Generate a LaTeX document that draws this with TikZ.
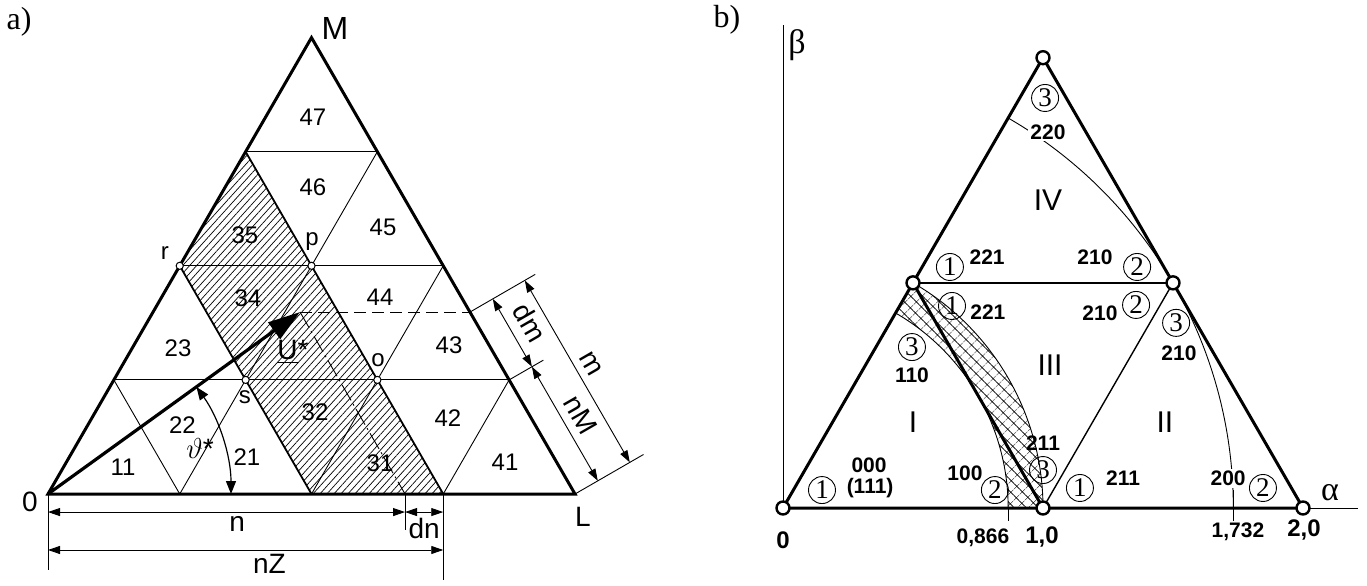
\documentclass[tikz,border=0pt]{standalone}
\usepackage{fontspec}
\setmainfont{Liberation Serif}
\setsansfont{Liberation Sans}
\usetikzlibrary{arrows.meta,patterns.meta,calc}

\begin{document}
\begin{tikzpicture}[x=0.5pt, y=0.5pt, >={Triangle[length=6pt,width=4pt]}]
    \tikzset{
        edge/.style={line width=1.5pt},
        grid/.style={line width=0.45pt},
        band/.style={line width=0.9pt},
        dim/.style={line width=0.45pt},
        lab/.style={font=\sffamily\fontsize{12}{12}\selectfont, inner sep=1pt},
        biglab/.style={font=\sffamily\fontsize{14}{14}\selectfont, inner sep=1pt},
        tag/.style={font=\fontsize{16}{16}\selectfont, inner sep=0pt},
        pt/.style={circle, draw, fill=white, line width=0.5pt, inner sep=0pt, minimum size=3.6pt},
        num/.style={font=\sffamily\bfseries\fontsize{10.5}{10.5}\selectfont, inner sep=1pt},
        ring/.style={circle, draw, line width=0.45pt, inner sep=0pt, minimum size=13.5pt, font=\fontsize{13.5}{13.5}\selectfont},
        vert/.style={circle, draw, fill=white, line width=1.2pt, inner sep=0pt, minimum size=6.5pt},
        zone/.style={font=\sffamily\fontsize{15}{15}\selectfont, inner sep=0pt}
    }
    \useasboundingbox (0,0) rectangle (1367,585);
    \node[tag] (tagA) at (19,563) {a)};
    \node[tag] (tagB) at (727,565) {b)};

    % a) triangle with sectors
    \begin{scope}[shift={(48,91)}, x=65.875pt, y=65.875pt]
        \coordinate (O) at (0,0);
        \coordinate (L) at (4,0);
        \coordinate (M) at (2,3.464);
        \coordinate (b1) at (1,0);
        \coordinate (b2) at (2,0);
        \coordinate (b3) at (3,0);
        \coordinate (a0) at (0.5,0.866);
        \coordinate (s) at (1.5,0.866);
        \coordinate (o) at (2.5,0.866);
        \coordinate (a3) at (3.5,0.866);
        \coordinate (r) at (1,1.732);
        \coordinate (p) at (2,1.732);
        \coordinate (c2) at (3,1.732);
        \coordinate (t0) at (1.5,2.598);
        \coordinate (t1) at (2.5,2.598);
        \coordinate (tip) at (1.913,1.381);
        \coordinate (eM) at (3.203,1.381);
        \coordinate (nE) at (2.71,0);

        \fill[pattern={Lines[angle=48,distance=2.6pt,line width=0.35pt]}]
            (t0) -- (r) -- (s) -- (b2) -- (b3) -- (o) -- (p) -- cycle;
        \draw[grid] (a0) -- (a3) (r) -- (c2) (t0) -- (t1);
        \draw[grid] (b1) -- (a0) (b1) -- (s) (b2) -- (o) (b3) -- (a3)
            (s) -- (p) (o) -- (c2) (p) -- (t1);
        \draw[band] (t0) -- (p) -- (o) -- (b3) (r) -- (s) -- (b2);
        \draw[edge] (O) -- (M) -- (L) -- cycle;

        \draw[grid, dash pattern=on 6pt off 3pt] (tip) -- (eM);
        \draw[grid, dash pattern=on 9pt off 2pt on 1pt off 2pt] (tip) -- (nE);
        \draw[line width=1.6pt, -{Triangle[length=16pt,width=10pt]}] (O) -- (tip);
        \draw[line width=0.6pt, {Triangle[length=6.5pt,width=5pt]}-{Triangle[length=6.5pt,width=5pt]}]
            (35.8:1.389) arc[start angle=35.8, end angle=0, radius=1.389];

        \node[pt] (rPt) at (r) {};
        \node[pt] (pPt) at (p) {};
        \node[pt] (sPt) at (s) {};
        \node[pt] (oPt) at (o) {};
        \node[lab] (rLab) at (0.888,1.829) {r};
        \node[lab] (pLab) at (2.004,1.913) {p};
        \node[lab] (sLab) at (1.495,0.736) {s};
        \node[lab] (oLab) at (2.505,1.017) {o};

        \node[lab] (n47) at (2.011,2.861) {47};
        \node[lab] (n46) at (2.011,2.330) {46};
        \node[lab] (n45) at (2.543,2.027) {45};
        \node[lab] (n35) at (1.495,1.966) {35};
        \node[lab] (n34) at (1.518,1.488) {34};
        \node[lab] (n44) at (2.520,1.495) {44};
        \node[lab] (n23) at (0.987,1.108) {23};
        \node[lab] (n43) at (3.044,1.131) {43};
        \node[lab] (n22) at (1.020,0.524) {22};
        \node[lab] (n21) at (1.510,0.281) {21};
        \node[lab] (n11) at (0.569,0.205) {11};
        \node[lab] (n32) at (2.027,0.622) {32};
        \node[lab] (n31) at (2.520,0.235) {31};
        \node[lab] (n42) at (3.036,0.577) {42};
        \node[lab] (n41) at (3.469,0.243) {41};
        \node[biglab] (uLab) at (1.859,1.077) {\underline{U}*};
        \node[biglab] (thLab) at (1.154,0.349) {$\vartheta$*};
        \node[biglab] (oName) at (-0.137,-0.061) {0};
        \node[biglab] (lName) at (4.06,-0.175) {L};
        \node[font=\sffamily\fontsize{16}{16}\selectfont] (mName) at (2.178,3.537) {M};

        % dimensions along the base
        \coordinate (xO) at (0,-0.577);
        \coordinate (xN) at (2.71,-0.27);
        \coordinate (xZ) at (3,-0.65);
        \coordinate (nL) at (0,-0.137);
        \coordinate (nR) at (2.71,-0.137);
        \coordinate (dnR) at (3,-0.137);
        \coordinate (zL) at (0,-0.425);
        \coordinate (zR) at (3,-0.425);
        \draw[dim] (O) -- (xO) (nE) -- (xN) (b3) -- (xZ);
        \draw[dim, <->] (nL) -- node[biglab, below=1pt, pos=0.53] (nLab) {n} (nR);
        \draw[dim, <->] (nR) -- node[biglab, below=2pt] (dnLab) {dn} (dnR);
        \draw[dim, <->] (zL) -- node[biglab, below=1pt, pos=0.56] (nzLab) {nZ} (zR);

        % dimensions along ML
        \coordinate (yM) at ($(eM)+(0.495,0.286)$);
        \coordinate (yA) at ($(a3)+(0.26,0.15)$);
        \coordinate (yL) at ($(L)+(0.52,0.3)$);
        \coordinate (dmT) at ($(eM)+(0.173,0.1)$);
        \coordinate (dmB) at ($(a3)+(0.173,0.1)$);
        \coordinate (nmB) at ($(L)+(0.173,0.1)$);
        \coordinate (mT) at ($(eM)+(0.416,0.24)$);
        \coordinate (mB) at ($(L)+(0.416,0.24)$);
        \draw[dim] (eM) -- (yM) (a3) -- (yA) (L) -- (yL);
        \draw[dim, <->] (dmT) -- node[biglab, sloped, above=4pt] (dmLab) {dm} (dmB);
        \draw[dim, <->] (dmB) -- node[biglab, sloped, above=3pt] (nmLab) {nM} (nmB);
        \draw[dim, <->] (mT) -- node[biglab, sloped, above=3pt] (mLab) {m} (mB);
    \end{scope}

    % b) plane alpha-beta
    \begin{scope}[shift={(783,77)}, x=130pt, y=130pt]
        \coordinate (B0) at (0,0);
        \coordinate (B1) at (1,0);
        \coordinate (B2) at (2,0);
        \coordinate (BT) at (1,1.732);
        \coordinate (BL) at (0.5,0.866);
        \coordinate (BR) at (1.5,0.866);
        \coordinate (aEnd) at (2.21,0);
        \coordinate (bEnd) at (0,1.858);

        \fill[pattern={Hatch[angle=45,distance=4pt,line width=0.3pt]}]
            (0:0.866) arc[start angle=0, end angle=60, radius=0.866]
            -- (60:1) arc[start angle=60, end angle=0, radius=1] -- cycle;
        \draw[grid] (0:0.866) arc[start angle=0, end angle=60, radius=0.866];
        \draw[grid] (0:1) arc[start angle=0, end angle=60, radius=1];
        \draw[grid] (0:1.732) arc[start angle=0, end angle=60, radius=1.732];
        \draw[grid] (1.732,-0.05) -- (1.732,0.07);
        \draw[grid] (0.866,0) -- (0.866,-0.05);

        \draw[grid] (B0) -- (bEnd);
        \draw[grid] (B2) -- (aEnd);
        \draw[grid, line width=0.7pt] (B1) -- (BR);
        \draw[band] (BL) -- (BR);
        \draw[edge] (BL) -- (B1);
        \draw[edge] (B0) -- (BT) -- (B2) -- cycle;

        \node[vert] (v0) at (B0) {};
        \node[vert] (v1) at (B1) {};
        \node[vert] (v2) at (B2) {};
        \node[vert] (vT) at (BT) {};
        \node[vert] (vL) at (BL) {};
        \node[vert] (vR) at (BR) {};

        \node[ring] (c3top) at (1.008,1.577) {3};
        \node[num, fill=white] (k220) at (1.019,1.446) {220};
        \node[zone] (zIV) at (1.019,1.185) {IV};
        \node[ring] (c1a) at (0.642,0.927) {1};
        \node[num] (k221a) at (0.785,0.965) {221};
        \node[num] (k210a) at (1.200,0.965) {210};
        \node[ring] (c2a) at (1.362,0.927) {2};
        \node[ring] (c1b) at (0.650,0.777) {1};
        \node[num] (k221b) at (0.788,0.754) {221};
        \node[num] (k210b) at (1.219,0.750) {210};
        \node[ring] (c2b) at (1.358,0.781) {2};
        \node[ring] (c3r) at (1.512,0.712) {3};
        \node[num] (k210c) at (1.523,0.596) {210};
        \node[zone] (zIII) at (1.027,0.550) {III};
        \node[ring] (c3l) at (0.496,0.619) {3};
        \node[num] (k110) at (0.496,0.512) {110};
        \node[zone] (zI) at (0.500,0.331) {I};
        \node[num] (k000) at (0.331,0.165) {000};
        \node[num] (k111) at (0.335,0.077) {(111)};
        \node[ring] (c1c) at (0.150,0.069) {1};
        \node[num] (k100) at (0.700,0.135) {100};
        \node[ring] (c2c) at (0.815,0.069) {2};
        \node[num] (k211a) at (1.000,0.250) {211};
        \node[ring] (c3b) at (1.000,0.146) {3};
        \node[ring] (c1d) at (1.142,0.077) {1};
        \node[num] (k211b) at (1.308,0.115) {211};
        \node[zone] (zII) at (1.469,0.331) {II};
        \node[num, fill=white] (k200) at (1.712,0.115) {200};
        \node[ring] (c2d) at (1.846,0.077) {2};

        \node[font=\fontsize{17}{17}\selectfont] (alab) at (2.104,0.058) {α};
        \node[font=\fontsize{17}{17}\selectfont] (blab) at (0.054,1.781) {β};
        \node[num, font=\sffamily\bfseries\fontsize{12}{12}\selectfont] (x0) at (0,-0.123) {0};
        \node[num, font=\sffamily\bfseries\fontsize{12}{12}\selectfont] (x1) at (0.996,-0.112) {1,0};
        \node[num, font=\sffamily\bfseries\fontsize{12}{12}\selectfont] (x2) at (2.004,-0.085) {2,0};
        \node[num] (x866) at (0.769,-0.115) {0,866};
        \node[num] (x1732) at (1.750,-0.092) {1,732};
    \end{scope}
\end{tikzpicture}
\end{document}
